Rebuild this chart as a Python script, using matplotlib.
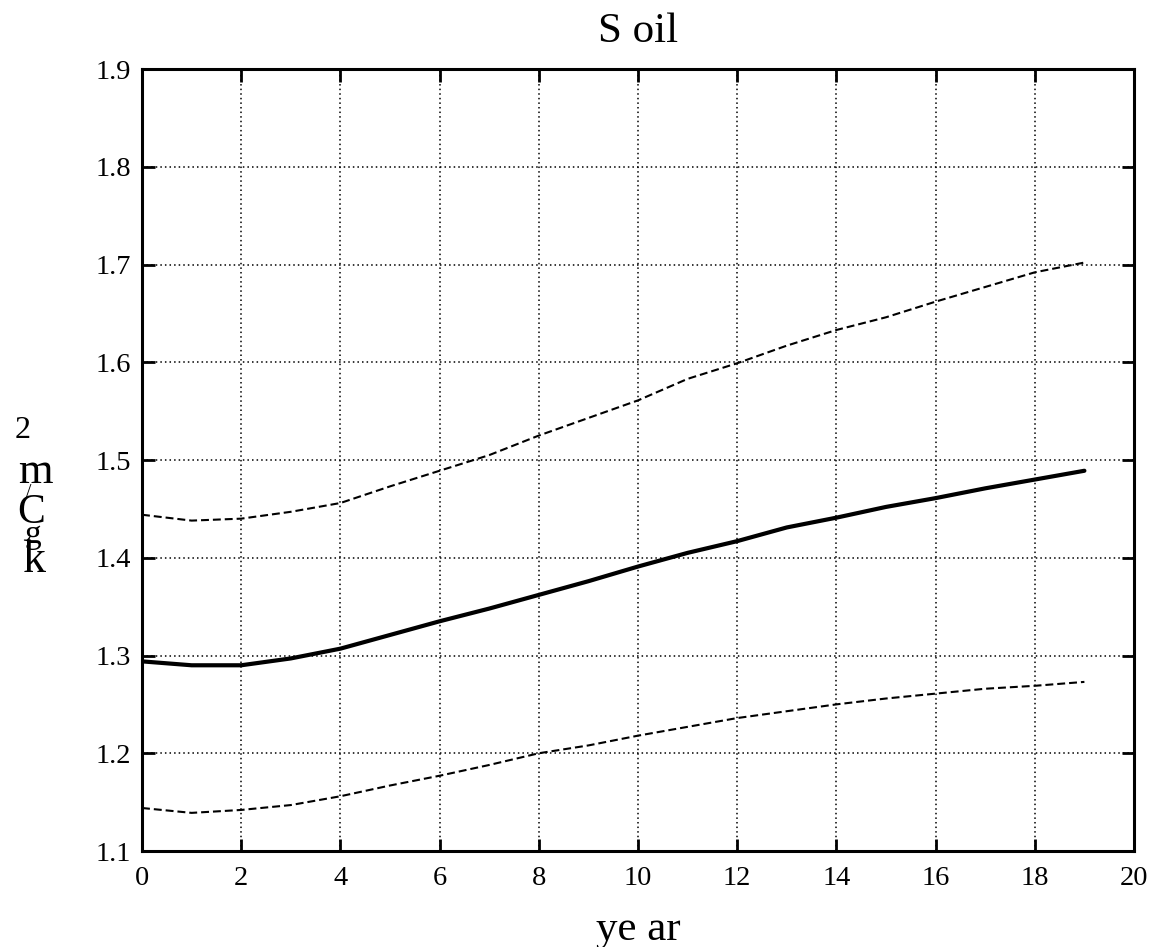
import matplotlib
matplotlib.use("Agg")
import matplotlib.pyplot as plt

years = list(range(20))
mean_soil = [1.294, 1.290, 1.290, 1.297, 1.307, 1.321, 1.335, 1.348, 1.362, 1.376,
             1.391, 1.405, 1.417, 1.431, 1.441, 1.452, 1.461, 1.471, 1.480, 1.489]
upper_soil = [1.444, 1.438, 1.440, 1.447, 1.456, 1.473, 1.489, 1.505, 1.525, 1.543,
              1.561, 1.583, 1.599, 1.617, 1.633, 1.646, 1.662, 1.677, 1.692, 1.702]
lower_soil = [1.144, 1.139, 1.142, 1.147, 1.156, 1.167, 1.177, 1.188, 1.200, 1.208,
              1.218, 1.227, 1.236, 1.243, 1.250, 1.256, 1.261, 1.266, 1.269, 1.273]
x_ticks = list(range(0, 21, 2))
y_ticks = [1.1, 1.2, 1.3, 1.4, 1.5, 1.6, 1.7, 1.8, 1.9]
title_text = "S oil"
xlabel_text = "ye ar"

plt.rcParams['font.family'] = ['Liberation Serif', 'DejaVu Serif']

W, H = 1153, 947
fig = plt.figure(figsize=(W / 100, H / 100), dpi=100)
ax = fig.add_axes([142 / W, 1 - 851 / H, (1134 - 142) / W, (851 - 69) / H])

ax.plot(years, upper_soil, color='black', lw=1.5, linestyle=(0, (3.8, 1.9)))
ax.plot(years, lower_soil, color='black', lw=1.5, linestyle=(0, (3.8, 1.9)))
ax.plot(years, mean_soil, color='black', lw=3.0, solid_capstyle='round')

ax.set_xlim(0, 20)
ax.set_ylim(1.1, 1.9)
ax.set_xticks(x_ticks)
ax.set_yticks(y_ticks)
ax.set_xticklabels([str(v) for v in x_ticks])
ax.set_yticklabels([f"{v:.1f}" for v in y_ticks])
ax.tick_params(direction='in', length=9, width=2.0, labelsize=20.5,
               top=True, right=True, colors='black')
ax.tick_params(axis='x', pad=11)
ax.tick_params(axis='y', pad=8)
ax.grid(True, color='black', linestyle=(0, (1, 2.0)), lw=1.1)
ax.set_axisbelow(False)
for s in ax.spines.values():
    s.set_linewidth(2.2)
    s.set_color('black')

def px(x, y):
    return x / W, 1 - y / H

fig.text(*px(638, 42), title_text, ha='center', va='baseline', fontsize=31)
fig.text(*px(638, 940), xlabel_text, ha='center', va='baseline', fontsize=31)

# Stacked y-label characters (as rendered in the reference)
ylab = [("2", 23, 438, 23), ("m", 35, 483, 32), ("/", 29, 497, 14),
        ("C", 31, 523, 30), ("g", 33, 543, 24), ("k", 34, 572, 33)]
for ch, cx, cy, fs in ylab:
    fig.text(*px(cx, cy), ch, ha='center', va='baseline', fontsize=fs)

fig.savefig("out.png", dpi=100)
